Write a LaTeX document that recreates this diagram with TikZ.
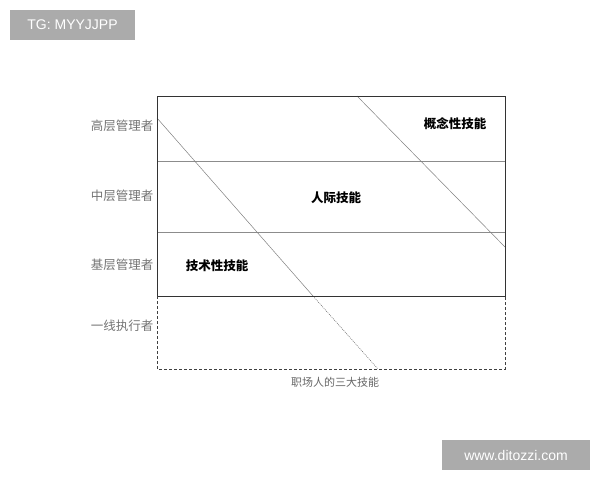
\documentclass[tikz,border=0pt]{standalone}
\usepackage{fontspec}
\setmainfont{Liberation Sans}
\newfontfamily\cjk{Noto Sans CJK SC}
\begin{document}
\begin{tikzpicture}[x=1pt,y=-1pt,
  rowlabel/.style={font=\cjk\fontsize{12.5}{14}\selectfont, text=black!55, inner sep=0pt},
  skill/.style={font=\cjk\bfseries\fontsize{12.5}{14}\selectfont, text=black, inner sep=0pt}]
\useasboundingbox (0,0) rectangle (600,480);
% coordinates
\coordinate (tl) at (157,96);
\coordinate (tr) at (505,96);
\coordinate (bl) at (157,296);
\coordinate (br) at (505,296);
\coordinate (dl) at (157,369);
\coordinate (dr) at (505,369);
\coordinate (l1) at (157,161);
\coordinate (r1) at (505,161);
\coordinate (l2) at (157,232);
\coordinate (r2) at (505,232);
\coordinate (a0) at (157,118);
\coordinate (a1) at (313,296);
\coordinate (a2) at (378,369);
\coordinate (b0) at (357,96);
\coordinate (b1) at (505,247);
% inner lines
\draw[black!45, line width=0.7pt] (l1) -- (r1);
\draw[black!45, line width=0.7pt] (l2) -- (r2);
% diagonals
\draw[black!50, line width=0.5pt] (a0) -- (a1);
\draw[black!60, line width=0.5pt, dash pattern=on 1pt off 1pt] (a1) -- (a2);
\draw[black!50, line width=0.5pt] (b0) -- (b1);
% frame
\draw[black!80, line width=0.9pt] (bl) -- (tl) -- (tr) -- (br) -- cycle;
\draw[black!75, line width=0.8pt, dash pattern=on 3pt off 2pt] (bl) -- (dl) -- (dr) -- (br);
% labels
\node[rowlabel] (h1) at (122,126) {高层管理者};
\node[rowlabel] (h2) at (122,196) {中层管理者};
\node[rowlabel] (h3) at (122,265) {基层管理者};
\node[rowlabel] (h4) at (122,326) {一线执行者};
\node[skill] (s1) at (455,124) {概念性技能};
\node[skill] (s2) at (336,198) {人际技能};
\node[skill] (s3) at (217,266) {技术性技能};
\node[font=\cjk\fontsize{11}{13}\selectfont, text=black!60, inner sep=0pt] (cap) at (335,382) {职场人的三大技能};
% watermarks
\fill[black!33] (10,10) rectangle (135,40);
\node[text=white, font=\fontsize{14}{16}\selectfont, inner sep=0pt] (w1) at (72.5,25) {TG: MYYJJPP};
\fill[black!33] (442,440) rectangle (590,470);
\node[text=white, font=\fontsize{14}{16}\selectfont, inner sep=0pt] (w2) at (516,455.5) {www.ditozzi.com};
\end{tikzpicture}
\end{document}
